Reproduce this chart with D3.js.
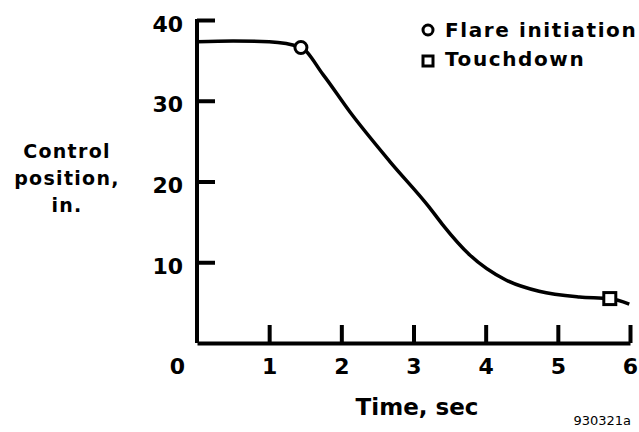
<!DOCTYPE html>
<html>
<head>
<meta charset="utf-8">
<script src="https://cdn.jsdelivr.net/npm/d3@7"></script>
<style>
  body { margin: 0; background: #fff; }
  svg text { font-family: "DejaVu Sans", "Liberation Sans", sans-serif; font-weight: bold; fill: #000; }
  .axis path, .axis line { stroke: #000; stroke-width: 4; }
</style>
</head>
<body>
<div id="chart"></div>
<script>
// control position vs time
const timeSec = [0, 0.5, 1.0, 1.44, 1.75, 2.12, 2.67, 3.22, 3.40, 3.78, 4.28, 4.74, 5.30, 5.72, 5.99];
const positionIn = [37.3, 37.4, 37.3, 36.6, 33.2, 28.6, 22.5, 16.8, 14.7, 10.9, 7.8, 6.4, 5.7, 5.5, 4.8];
const flare = { t: 1.44, v: 36.6 };
const touchdown = { t: 5.72, v: 5.5 };
const xTicks = [0, 1, 2, 3, 4, 5, 6];
const yTicks = [10, 20, 30, 40];
const legendLabels = ['Flare initiation', 'Touchdown'];

const width = 639, height = 432;
const margin = { left: 197, right: 9, top: 20, bottom: 89 };

const svg = d3.select('#chart').append('svg')
  .attr('width', width)
  .attr('height', height);

const x = d3.scaleLinear().domain([0, 6]).range([margin.left, width - margin.right]);
const y = d3.scaleLinear().domain([0, 40]).range([height - margin.bottom, margin.top]);

// x axis, ticks pointing up
const xAxis = d3.axisBottom(x)
  .tickValues(xTicks)
  .tickSizeInner(-18)
  .tickSizeOuter(0)
  .tickPadding(15)
  .tickFormat(d3.format('d'));

const gx = svg.append('g')
  .attr('class', 'axis')
  .attr('transform', 'translate(0,' + y(0) + ')')
  .call(xAxis);
gx.selectAll('text')
  .style('font-size', '22px')
  .attr('dx', function(d) { return d === 0 ? -20 : 0; });
gx.selectAll('.tick line').attr('stroke-width', 2.5);
gx.selectAll('.tick').filter(function(d) { return d === 0; }).select('line').remove();

// y axis, ticks pointing right
const yAxis = d3.axisLeft(y)
  .tickValues(yTicks)
  .tickSizeInner(-18)
  .tickSizeOuter(0)
  .tickPadding(14)
  .tickFormat(d3.format('d'));

const gy = svg.append('g')
  .attr('class', 'axis')
  .attr('transform', 'translate(' + x(0) + ',0)')
  .call(yAxis);
gy.selectAll('text').style('font-size', '22px').attr('dy', '0.5em');
gy.selectAll('.tick line').attr('stroke-width', 2.5);
gy.select('.domain').attr('d', 'M0,' + y(0) + 'V' + (y(40) - 1));

// curve
const line = d3.line()
  .x(function(d, i) { return x(timeSec[i]); })
  .y(function(d) { return y(d); })
  .curve(d3.curveMonotoneX);

svg.append('path')
  .datum(positionIn)
  .attr('fill', 'none')
  .attr('stroke', '#000')
  .attr('stroke-width', 3.5)
  .attr('d', line);

// markers
svg.append('circle')
  .attr('cx', x(flare.t))
  .attr('cy', y(flare.v))
  .attr('r', 6)
  .attr('fill', '#fff')
  .attr('stroke', '#000')
  .attr('stroke-width', 3);

svg.append('rect')
  .attr('x', x(touchdown.t) - 6)
  .attr('y', y(touchdown.v) - 6)
  .attr('width', 12)
  .attr('height', 12)
  .attr('fill', '#fff')
  .attr('stroke', '#000')
  .attr('stroke-width', 3);

// legend
const legend = svg.append('g').attr('transform', 'translate(428,0)');
legend.append('circle')
  .attr('cx', 0).attr('cy', 30).attr('r', 5)
  .attr('fill', '#fff').attr('stroke', '#000').attr('stroke-width', 3);
legend.append('rect')
  .attr('x', -5).attr('y', 56).attr('width', 10).attr('height', 10)
  .attr('fill', '#fff').attr('stroke', '#000').attr('stroke-width', 3);
legend.selectAll('.lbl')
  .data(legendLabels)
  .enter()
  .append('text')
    .attr('class', 'lbl')
    .attr('x', 17)
    .attr('y', function(d, i) { return 37 + i * 29; })
    .style('font-size', '20px')
    .style('letter-spacing', '1.6px')
    .text(function(d) { return d; });

// axis titles
const yTitle = svg.append('text')
  .attr('text-anchor', 'middle')
  .style('font-size', '19px')
  .style('letter-spacing', '1.3px');
['Control', 'position,', 'in.'].forEach(function(s, i) {
  yTitle.append('tspan').attr('x', 67).attr('y', 158 + i * 27).text(s);
});

svg.append('text')
  .attr('x', 417)
  .attr('y', 415)
  .attr('text-anchor', 'middle')
  .style('font-size', '23px')
  .text('Time, sec');

svg.append('text')
  .attr('x', 631)
  .attr('y', 425)
  .attr('text-anchor', 'end')
  .style('font-size', '13px')
  .style('font-weight', 'normal')
  .text('930321a');
</script>
</body>
</html>
